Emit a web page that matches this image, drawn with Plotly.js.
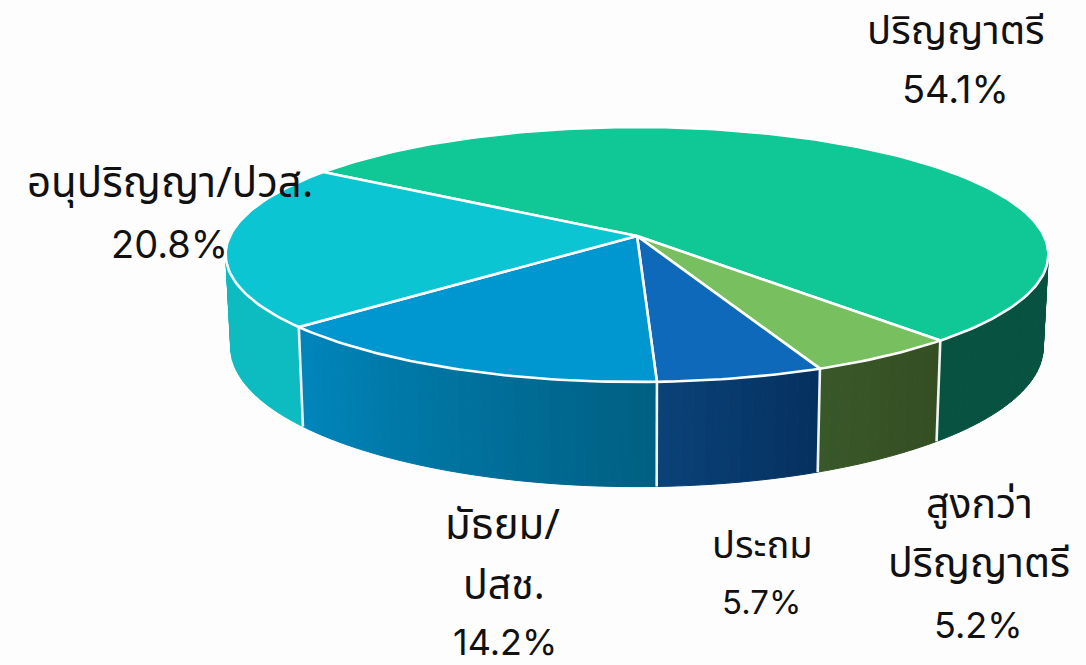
<!DOCTYPE html>
<html><head><meta charset="utf-8">
<script src="https://cdn.plot.ly/plotly-3.0.1.min.js"></script>
<style>html,body{margin:0;padding:0;background:#fdfdfd;overflow:hidden}#c{width:1086px;height:665px}</style>
</head><body><div id="c"></div>
<script>
// Data, in drawing order (clockwise from the back-left of the pie)
const categories = ['ปริญญาตรี', 'สูงกว่าปริญญาตรี', 'ประถม', 'มัธยม/ปสช.', 'อนุปริญญา/ปวส.'];
const values = [54.1, 5.2, 5.7, 14.2, 20.8];

// Styles
const topColors = ['#10C896', '#78BF5F', '#0E69BA', '#0097D0', '#0BC6D2'];
const sideFrom = ['#075240', '#39582A', '#0A4278', '#0086BC', '#0DBCC0'];
const sideTo   = ['#075240', '#344E22', '#05305F', '#005F82', '#0DBCC0'];

// Perspective pie geometry
const startAngle = -123.6, k = 0.145;
const topG = {cx: 637, cy: 236, a: 407, b: 124.8};
const botG = {cx: 637, cy: 327, a: 402, b: 136.5};
function proj(g, deg) {
  const r = deg * Math.PI / 180, X = Math.sin(r), Y = Math.cos(r), w = 1 - k * Y;
  return [g.cx + g.a * X / w, g.cy + g.b * Y / w];
}
function hex(c){return [1,3,5].map(i=>parseInt(c.substr(i,2),16));}
function mix(a,b,t){const A=hex(a),B=hex(b);return 'rgb('+A.map((v,i)=>Math.round(v+(B[i]-v)*t)).join(',')+')';}
function arc(g, a0, a1) {
  const n = Math.max(2, Math.ceil(Math.abs(a1 - a0))), pts = [];
  for (let i = 0; i <= n; i++) pts.push(proj(g, a0 + (a1 - a0) * i / n));
  return pts;
}
const base = {type: 'scatter', mode: 'lines', hoverinfo: 'skip', showlegend: false};
function poly(pts, fill, line, width) {
  return Object.assign({}, base, {
    x: pts.map(p => p[0]), y: pts.map(p => p[1]),
    fill: fill ? 'toself' : 'none', fillcolor: fill || undefined,
    line: {color: line, width: width}
  });
}

// Slice bounds derived from the values
const total = values.reduce((s, v) => s + v, 0);
const bounds = [];
let ang = startAngle;
values.forEach(v => { const e = ang - v / total * 360; bounds.push([ang, e]); ang = e; });

const traces = [];
// Side wall
const SIDE_LIMIT = 100;
bounds.forEach((b, i) => {
  for (const shift of [0, 360, -360]) {
    const hi = Math.min(b[0] + shift, SIDE_LIMIT), lo = Math.max(b[1] + shift, -SIDE_LIMIT);
    if (hi <= lo) continue;
    const n = Math.ceil((hi - lo) / 1.5);
    for (let j = 0; j < n; j++) {
      const a0 = hi - (hi - lo) * j / n, a1 = hi - (hi - lo) * (j + 1) / n;
      // gradient runs left to right on screen: from the low angle to the high angle
      const col = mix(sideFrom[i], sideTo[i], 1 - (j + .5) / n);
      traces.push(poly([proj(topG,a0), proj(topG,a1), proj(botG,a1), proj(botG,a0), proj(topG,a0)], col, col, 1));
    }
  }
});
// Wall seams
bounds.forEach(b => {
  let a = ((b[0] + 180) % 360 + 360) % 360 - 180;
  if (Math.abs(a) < 80) traces.push(poly([proj(topG, a), proj(botG, a)], null, '#F0F3F3', 2.6));
});
// Top faces
bounds.forEach((b, i) => {
  const c = [topG.cx, topG.cy];
  traces.push(poly([c].concat(arc(topG, b[0], b[1])).concat([c]), topColors[i], '#FFFFFF', 2.6));
});

// Labels
const thaiFont = '"Noto Sans Thai","Noto Sans","Open Sans",Roboto,sans-serif';
const numFont = 'Inter,Roboto,sans-serif';
const pct = values.map(v => v.toFixed(1) + '%');
const labels = [
  ['ปริญญาตรี', 956, 32, 40, thaiFont], [pct[0], 955, 89, 38, numFont],
  ['อนุปริญญา/ปวส.', 170, 184, 42, thaiFont], [pct[4], 169, 244, 38, numFont],
  ['มัธยม/', 502, 526, 42, thaiFont], ['ปสช.', 504, 586, 41, thaiFont], [pct[3], 505, 642, 36, numFont],
  ['ประถม', 762, 546, 38, thaiFont], [pct[2], 761, 602, 33, numFont],
  ['สูงกว่า', 979, 505, 41, thaiFont], ['ปริญญาตรี', 979, 564, 41, thaiFont], [pct[1], 978, 625, 36, numFont]
];
const annotations = labels.map(l => ({
  text: l[0], x: l[1], y: l[2], xref: 'x', yref: 'y', showarrow: false,
  xanchor: 'center', yanchor: 'middle', font: {family: l[4], size: l[3], color: '#111111'}
}));

Plotly.newPlot('c', traces, {
  width: 1086, height: 665, margin: {l: 0, r: 0, t: 0, b: 0},
  paper_bgcolor: '#fdfdfd', plot_bgcolor: '#fdfdfd', showlegend: false,
  xaxis: {range: [0, 1086], visible: false, fixedrange: true},
  yaxis: {range: [665, 0], visible: false, fixedrange: true},
  annotations: annotations
}, {displayModeBar: false, staticPlot: true});
</script></body></html>
